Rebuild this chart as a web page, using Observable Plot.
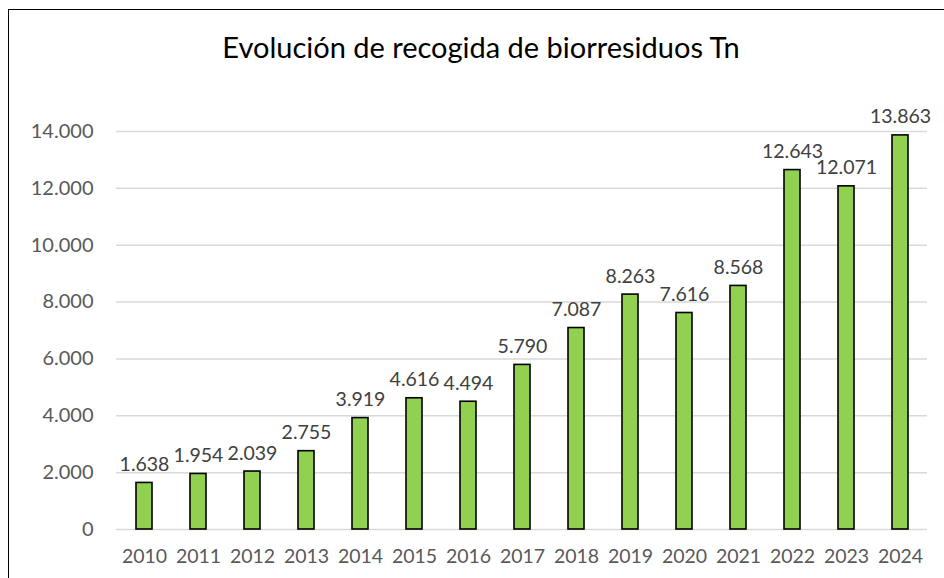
<!DOCTYPE html>
<html>
<head>
<meta charset="utf-8">
<script src="https://cdn.jsdelivr.net/npm/d3@7"></script>
<script src="https://cdn.jsdelivr.net/npm/@observablehq/plot@0.6"></script>
<style>
  html, body { margin: 0; padding: 0; background: #fff; }
  body { width: 944px; height: 578px; overflow: hidden; position: relative; font-family: Lato, "Open Sans", sans-serif; }
  #frame { position: absolute; left: 8px; top: 9px; width: 940px; height: 600px; border: 1.5px solid #000; box-sizing: border-box; pointer-events: none; z-index: 5; }
  #title { position: relative; height: 100px; width: 962px; text-align: center; font-size: 29px; color: #000; }
  #title span { position: absolute; left: 0; right: 0; top: 30px; line-height: 1.2; }
  #chart { position: relative; }
</style>
</head>
<body>
<div id="frame"></div>
<div id="title"><span>Evolución de recogida de biorresiduos Tn</span></div>
<div id="chart"></div>
<script>
const years = ["2010","2011","2012","2013","2014","2015","2016","2017","2018","2019","2020","2021","2022","2023","2024"];
const values = [1638,1954,2039,2755,3919,4616,4494,5790,7087,8263,7616,8568,12643,12071,13863];
const yTicks = [0,2000,4000,6000,8000,10000,12000,14000];

const data = years.map((y, i) => ({year: y, value: values[i]}));
const es = d3.formatLocale({decimal: ",", thousands: ".", grouping: [3], currency: ["", "€"]});
const fmt = es.format(",");

const chart = Plot.plot({
  width: 944,
  height: 478,
  marginTop: 31,
  marginBottom: 49,
  marginLeft: 116,
  marginRight: 17,
  style: {fontFamily: "Lato, 'Open Sans', sans-serif", fontSize: "19.5px", color: "#595959", background: "transparent"},
  x: {domain: years, padding: 0, label: null},
  y: {domain: [0, 14000], label: null},
  marks: [
    Plot.ruleY(yTicks, {stroke: "#D9D9D9", strokeWidth: 1.5}),
    Plot.barY(data, {x: "year", y: "value", fill: "#92D050", stroke: "#000", strokeWidth: 1.6, insetLeft: 19, insetRight: 19}),
    Plot.text(data, {x: "year", y: "value", text: d => fmt(d.value), lineAnchor: "bottom", dy: -12, fill: "#404040", fontSize: 19.5}),
    Plot.axisY({ticks: yTicks, tickFormat: fmt, tickSize: 0, tickPadding: 23, fill: "#595959", fontSize: 20}),
    Plot.axisX({tickSize: 0, tickPadding: 20, fill: "#595959", fontSize: 19.5})
  ]
});
document.getElementById("chart").appendChild(chart);
</script>
</body>
</html>
